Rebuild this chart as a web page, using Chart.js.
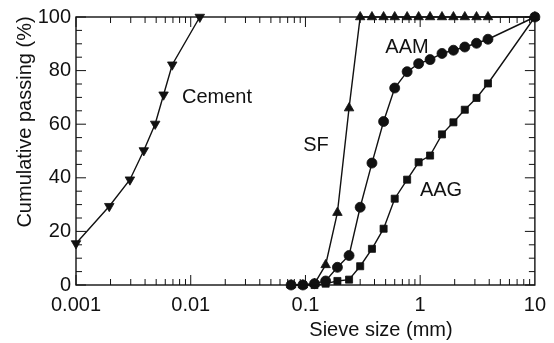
<!DOCTYPE html>
<html>
<head>
<meta charset="utf-8">
<script src="https://cdn.jsdelivr.net/npm/chart.js@4/dist/chart.umd.min.js"></script>
<style>
  html, body { margin: 0; padding: 0; background: #fff; }
  #wrap { width: 554px; height: 343px; }
</style>
</head>
<body>
<div id="wrap"><canvas id="myChart" width="554" height="343"></canvas></div>
<script>
// sieve sizes (mm)
const cementSize = [0.001, 0.00195, 0.00295, 0.0039, 0.0049, 0.0058, 0.0069, 0.012];
const cementPass = [15.5, 29.4, 39.3, 50.2, 60.1, 71, 82.2, 100];

const sfSize = [0.075, 0.095, 0.12, 0.15, 0.19, 0.24, 0.3, 0.38, 0.48, 0.6, 0.77, 0.97, 1.22, 1.55, 1.95, 2.45, 3.1, 3.9, 10];
const sfPass = [0, 0, 0.5, 7.5, 27, 66, 100, 100, 100, 100, 100, 100, 100, 100, 100, 100, 100, 100, 100];

const aamSize = [0.075, 0.095, 0.12, 0.15, 0.19, 0.24, 0.3, 0.38, 0.48, 0.6, 0.77, 0.97, 1.22, 1.55, 1.95, 2.45, 3.1, 3.9, 10];
const aamPass = [0, 0, 0.5, 1.5, 6.6, 11, 29, 45.5, 61, 73.5, 79.6, 82.6, 84.1, 86.4, 87.6, 88.8, 90.2, 91.7, 100];

const aagSize = [0.075, 0.095, 0.12, 0.15, 0.19, 0.24, 0.3, 0.38, 0.48, 0.6, 0.77, 0.97, 1.22, 1.55, 1.95, 2.45, 3.1, 3.9, 10];
const aagPass = [0, 0, 0, 0.5, 1.5, 2, 7, 13.5, 21, 32.2, 39.3, 45.8, 48.3, 56.2, 60.7, 65.4, 69.8, 75.2, 100];

const xTicks = [0.001, 0.01, 0.1, 1, 10];
const yTicks = [0, 20, 40, 60, 80, 100];

const ink = '#111';
const font = 'Liberation Sans, Arial, sans-serif';

function pts(xs, ys) {
    return xs.map((x, i) => ({ x: x, y: ys[i] }));
}

function series(label, xs, ys, style, rot, r) {
    return {
        label: label,
        data: pts(xs, ys),
        borderColor: ink,
        borderWidth: 1.4,
        backgroundColor: ink,
        pointStyle: style,
        rotation: rot,
        pointRadius: r,
        pointBackgroundColor: ink,
        pointBorderColor: ink,
        pointBorderWidth: 0.8,
        tension: 0,
        clip: false
    };
}

// frame, inward ticks, labels and axis titles
const decor = {
    id: 'decor',
    afterDraw(chart) {
        const c = chart.ctx;
        const a = chart.chartArea;
        const xs = chart.scales.x;
        const ys = chart.scales.y;
        c.save();
        c.strokeStyle = ink;
        c.lineWidth = 1.4;
        c.strokeRect(a.left, a.top, a.right - a.left, a.bottom - a.top);

        c.lineWidth = 1;
        c.beginPath();
        for (let e = -3; e <= 0; e++) {
            for (let k = 1; k <= 9; k++) {
                const px = xs.getPixelForValue(k * Math.pow(10, e));
                const len = k === 1 ? 10 : 6;
                c.moveTo(px, a.bottom); c.lineTo(px, a.bottom - len);
                c.moveTo(px, a.top); c.lineTo(px, a.top + len);
            }
        }
        for (let v = 0; v <= 100; v += 5) {
            const py = ys.getPixelForValue(v);
            const len = v % 20 === 0 ? 10 : 6;
            c.moveTo(a.left, py); c.lineTo(a.left + len, py);
            c.moveTo(a.right, py); c.lineTo(a.right - len, py);
        }
        c.stroke();

        c.fillStyle = ink;
        c.font = '20px ' + font;
        c.textAlign = 'center';
        c.textBaseline = 'middle';
        c.fillText('Cement', 217, 97);
        c.fillText('SF', 316, 145);
        c.fillText('AAM', 407, 47);
        c.fillText('AAG', 441, 190);

        c.fillText('Sieve size (mm)', 381, 330);

        c.translate(25, 122);
        c.rotate(-Math.PI / 2);
        c.fillText('Cumulative passing (%)', 0, 0);
        c.restore();
    }
};

const ctx = document.getElementById('myChart');
const myChart = new Chart(ctx, {
    type: 'line',
    data: {
        datasets: [
            series('Cement', cementSize, cementPass, 'triangle', 180, 5.5),
            series('SF', sfSize, sfPass, 'triangle', 0, 5.5),
            series('AAM', aamSize, aamPass, 'circle', 0, 5),
            series('AAG', aagSize, aagPass, 'rect', 0, 5)
        ]
    },
    options: {
        responsive: false,
        animation: false,
        devicePixelRatio: 1,
        layout: { padding: { top: 15, right: 19, left: 0, bottom: 0 } },
        plugins: {
            legend: { display: false },
            tooltip: { enabled: false }
        },
        scales: {
            x: {
                type: 'logarithmic',
                min: 0.001,
                max: 10,
                grid: { display: false, drawTicks: false },
                border: { display: false },
                afterBuildTicks: (scale) => {
                    scale.ticks = xTicks.map(v => ({ value: v, major: true }));
                },
                afterFit: (scale) => { scale.height = 58; },
                ticks: {
                    color: ink,
                    font: { family: font, size: 20 },
                    padding: 8,
                    autoSkip: false,
                    maxRotation: 0,
                    callback: (v) => String(v)
                }
            },
            y: {
                min: 0,
                max: 100,
                grid: { display: false, drawTicks: false },
                border: { display: false },
                afterBuildTicks: (scale) => {
                    scale.ticks = yTicks.map(v => ({ value: v }));
                },
                afterFit: (scale) => { scale.width = 76; },
                ticks: {
                    color: ink,
                    font: { family: font, size: 20 },
                    padding: 5
                }
            }
        }
    },
    plugins: [decor]
});
</script>
</body>
</html>
